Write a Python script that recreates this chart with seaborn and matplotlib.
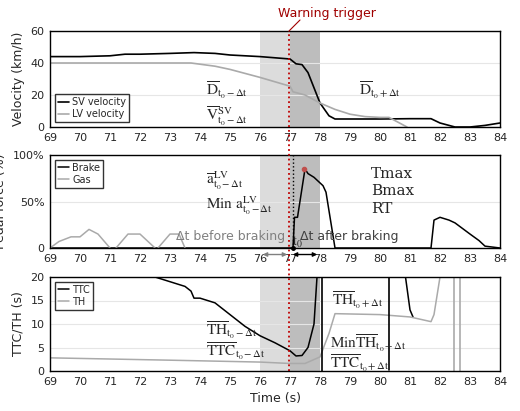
import numpy as np
import matplotlib
matplotlib.use("Agg")
import matplotlib.pyplot as plt
import seaborn as sns

sns.set_style("white")
plt.rcParams["font.family"] = ["DejaVu Sans"]
plt.rcParams["mathtext.fontset"] = "stix"

# --- data ---
sv_t = [69, 70, 71, 71.5, 72, 73, 73.8, 74.5, 75, 76, 77, 77.1, 77.2, 77.4, 77.6, 78, 78.3, 78.5, 79, 80, 81, 81.7, 82, 82.5, 83, 83.5, 84]
sv_v = [44, 44, 44.5, 45.5, 45.5, 46, 46.5, 46, 45, 44, 42.5, 41, 39.5, 39, 34, 15, 7, 5, 5, 5, 5.2, 5.2, 2.5, 0, 0, 1, 2.5]
lv_t = [69, 73.7, 74.5, 75, 76, 77, 77.1, 77.5, 78, 78.5, 79, 79.5, 80, 80.3, 80.6, 80.9]
lv_v = [40, 40, 38, 36, 31, 25.5, 22, 20, 15, 11, 8, 6.5, 6, 6, 3, 0]

brake_t = [69, 77.1, 77.15, 77.25, 77.5, 77.6, 77.8, 78.0, 78.1, 78.2, 78.5, 81.7, 81.8, 82.0, 82.3, 82.5, 83.0, 83.3, 83.5, 84]
brake_p = [0, 0, 0.33, 0.33, 0.85, 0.80, 0.76, 0.70, 0.67, 0.60, 0, 0, 0.30, 0.33, 0.30, 0.27, 0.15, 0.08, 0.02, 0]
gas_t = [69, 69.3, 69.7, 70, 70.3, 70.6, 71, np.nan, 71.2, 71.6, 72, 72.5, np.nan, 72.6, 73, 73.3, 73.5]
gas_p = [0, 0.07, 0.12, 0.12, 0.20, 0.15, 0, np.nan, 0, 0.15, 0.15, 0, np.nan, 0, 0.15, 0.15, 0]

ttc_t = [72.5, 73, 73.5, 73.7, 73.8, 74, 74.5, 75, 75.5, 76, 76.5, 77, 77.2, 77.4, 77.6, 77.8, 77.9, np.nan, 80.85, 81.0, 81.1]
ttc_v = [20, 19, 18, 17, 15.5, 15.5, 14.5, 12, 9.5, 7.5, 6, 4.3, 3.2, 3.3, 5, 10, 20, np.nan, 20, 13, 11.5]
th_t = [69, 73, 76, 77, 77.5, 78, 78.3, 78.5, 80, 81, 81.7, 81.8, 82]
th_v = [2.8, 2.3, 1.9, 1.6, 1.6, 3, 8, 12.2, 12, 11.5, 10.5, 12, 20]

warn_t = 76.95
xticks = list(range(69, 85))

fig = plt.figure(figsize=(5.2, 4.11), dpi=100)
W, H = 520, 411
def add(y0, y1):
    return fig.add_axes([50 / W, 1 - y1 / H, 450 / W, (y1 - y0) / H])

ax1 = add(31, 127)
ax2 = add(155, 248)
ax3 = add(277, 371)

for ax in (ax1, ax2, ax3):
    ax.axvspan(76, 77, color="#dcdcdc", lw=0, zorder=0)
    ax.axvspan(77, 78, color="#bdbdbd", lw=0, zorder=0)
    ax.set_xlim(69, 84)
    ax.set_xticks(xticks)
    ax.tick_params(labelsize=8, length=0, pad=4)
    ax.yaxis.grid(True, color="#e6e6e6", lw=0.8)
    ax.set_axisbelow(True)
    for s in ax.spines.values():
        s.set_color("black")
        s.set_linewidth(1.0)

# velocity
sns.lineplot(x=sv_t, y=sv_v, ax=ax1, color="black", lw=1.2, label="SV velocity")
sns.lineplot(x=lv_t, y=lv_v, ax=ax1, color="#aaaaaa", lw=1.2, label="LV velocity")
ax1.set_ylim(0, 60)
ax1.set_yticks([0, 20, 40, 60])
ax1.set_ylabel("Velocity (km/h)", fontsize=9)
leg = ax1.legend(loc="lower left", fontsize=7, frameon=True, fancybox=False,
                 handlelength=1.2, borderpad=0.3, labelspacing=0.2, handletextpad=0.3)
leg.get_frame().set_edgecolor("black")
ax1.text(74.2, 20, r"$\overline{\mathrm{D}}_{\mathrm{t_0-\Delta t}}$", fontsize=11)
ax1.text(74.2, 4, r"$\overline{\mathrm{V}}^{\mathrm{SV}}_{\mathrm{t_0-\Delta t}}$", fontsize=11)
ax1.text(79.3, 20, r"$\overline{\mathrm{D}}_{\mathrm{t_0+\Delta t}}$", fontsize=11)

# pedal
sns.lineplot(x=brake_t, y=brake_p, ax=ax2, color="black", lw=1.1, label="Brake")
ax2.plot(gas_t, gas_p, color="#aaaaaa", lw=1.1, label="Gas")
ax2.plot([77.47], [0.85], "o", color="#c0504d", ms=3)
ax2.plot([77.1, 77.1], [0, 1], ls=":", color="black", lw=1)
ax2.set_ylim(0, 1)
ax2.set_yticks([0, 0.5, 1])
ax2.set_yticklabels(["0", "50%", "100%"])
ax2.set_ylabel("Pedal force (%)", fontsize=9)
leg = ax2.legend(loc="upper left", fontsize=7, frameon=True, fancybox=False,
                 handlelength=1.2, borderpad=0.3, labelspacing=0.2, handletextpad=0.3)
leg.get_frame().set_edgecolor("black")
ax2.text(74.2, 0.68, r"$\overline{\mathrm{a}}^{\mathrm{LV}}_{\mathrm{t_0-\Delta t}}$", fontsize=11)
ax2.text(74.2, 0.42, r"$\mathrm{Min\ a}^{\mathrm{LV}}_{\mathrm{t_0-\Delta t}}$", fontsize=11)
for i, s in enumerate(["Tmax", "Bmax", "RT"]):
    ax2.text(79.7, 0.8 - i * 0.19, s, fontsize=11, family="serif", va="center")
ax2.text(76.85, 0.12, "Δt before braking", fontsize=9, color="#808080", ha="right", va="center")
ax2.text(77.35, 0.12, "Δt after braking", fontsize=9, color="#404040", ha="left", va="center")
ax2.text(77.05, 0.02, r"$\mathrm{t_0}$", fontsize=10)
ax2.plot([77.1], [0], "o", color="black", ms=2.5, clip_on=False)
ax2.annotate("", xy=(76, -0.07), xytext=(77, -0.07), annotation_clip=False,
             arrowprops=dict(arrowstyle="<|-|>", color="#808080", lw=1, mutation_scale=6))
ax2.annotate("", xy=(77, -0.07), xytext=(78, -0.07), annotation_clip=False,
             arrowprops=dict(arrowstyle="<|-|>", color="black", lw=1, mutation_scale=6))

# TTC / TH
sns.lineplot(x=[72.5], y=[20], ax=ax3, color="black", lw=1.1, label="TTC")
ax3.plot(ttc_t, ttc_v, color="black", lw=1.1)
sns.lineplot(x=[69], y=[2.8], ax=ax3, color="#aaaaaa", lw=1.1, label="TH")
ax3.plot(th_t, th_v, color="#aaaaaa", lw=1.1)
ax3.axvline(78.05, color="black", lw=1.2)
ax3.plot([80.3, 80.3], [0.3, 20], color="black", lw=1.2)
ax3.axvline(82.45, color="#aaaaaa", lw=1.2)
ax3.axvline(82.65, color="#aaaaaa", lw=1.2)
ax3.set_ylim(0, 20)
ax3.set_yticks([0, 5, 10, 15, 20])
ax3.set_ylabel("TTC/TH (s)", fontsize=9)
ax3.set_xlabel("Time (s)", fontsize=9)
leg = ax3.legend(loc="upper left", fontsize=7, frameon=True, fancybox=False,
                 handlelength=1.2, borderpad=0.3, labelspacing=0.2, handletextpad=0.3)
leg.get_frame().set_edgecolor("black")
ax3.text(74.2, 7.5, r"$\overline{\mathrm{TH}}_{\mathrm{t_0-\Delta t}}$", fontsize=11)
ax3.text(74.2, 3.2, r"$\overline{\mathrm{TTC}}_{\mathrm{t_0-\Delta t}}$", fontsize=11)
ax3.text(78.4, 14, r"$\overline{\mathrm{TH}}_{\mathrm{t_0+\Delta t}}$", fontsize=11)
ax3.text(78.35, 4.7, r"$\mathrm{Min}\overline{\mathrm{TH}}_{\mathrm{t_0+\Delta t}}$", fontsize=11)
ax3.text(78.35, 0.6, r"$\overline{\mathrm{TTC}}_{\mathrm{t_0+\Delta t}}$", fontsize=11)

# warning trigger line through all panels
ax3.axvline(warn_t, ymin=0, ymax=(371 - 31) / 94, color="#c00000", ls=":", lw=1.3, clip_on=False)
fig.text(278 / W, 1 - 13 / H, "Warning trigger", color="#a00000", fontsize=9, ha="left", va="center")
fig.add_artist(plt.Line2D([289 / W, 300 / W], [1 - 31 / H, 1 - 20 / H], color="#a00000", lw=0.8))
fig.savefig("out.png", dpi=100)
